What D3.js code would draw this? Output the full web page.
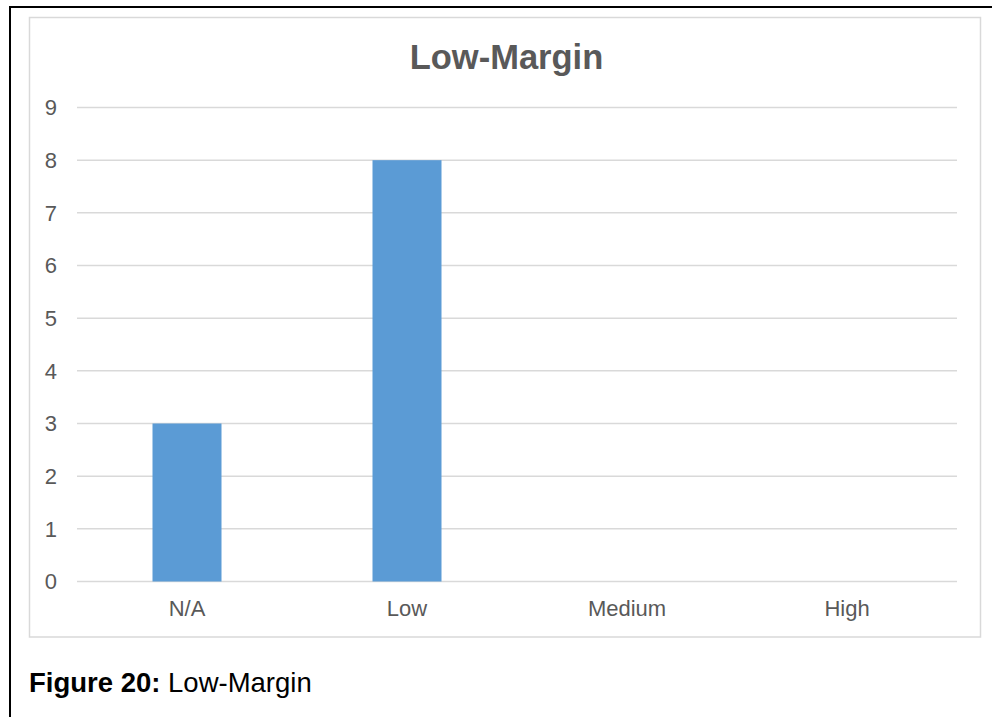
<!DOCTYPE html>
<html>
<head>
<meta charset="utf-8">
<script src="https://cdn.jsdelivr.net/npm/d3@7"></script>
<style>
  body { margin: 0; background: #fff; }
  text { font-family: Arial, "Liberation Sans", sans-serif; }
</style>
</head>
<body>
<script>
let categories = ["N/A", "Low", "Medium", "High"];
let counts = [3, 8, 0, 0];
let yTicks = [0, 1, 2, 3, 4, 5, 6, 7, 8, 9];
let chartTitle = "Low-Margin";

let width = 992, height = 717;

let svg = d3.select("body").append("svg")
    .attr("width", width)
    .attr("height", height);

// page frame (left and top edges of the figure box)
svg.append("line")
    .attr("x1", 10).attr("y1", 7).attr("x2", 10).attr("y2", height)
    .attr("stroke", "#000").attr("stroke-width", 2);
svg.append("line")
    .attr("x1", 9).attr("y1", 7).attr("x2", width).attr("y2", 7)
    .attr("stroke", "#000").attr("stroke-width", 2);

// chart area border
svg.append("rect")
    .attr("x", 29.5).attr("y", 17.5)
    .attr("width", 951).attr("height", 619.5)
    .attr("fill", "none")
    .attr("stroke", "#d9d9d9")
    .attr("stroke-width", 1.5);

let x = d3.scaleBand()
    .domain(categories)
    .range([77, 957]);

let y = d3.scaleLinear()
    .domain([0, 9])
    .range([581.5, 107.5]);

let barWidth = 69;

// gridlines
svg.append("g")
    .selectAll("line")
    .data(yTicks)
    .join("line")
    .attr("x1", 77).attr("x2", 957)
    .attr("y1", d => y(d)).attr("y2", d => y(d))
    .attr("stroke", "#d9d9d9")
    .attr("stroke-width", 1.5);

// y tick labels
svg.append("g")
    .selectAll("text")
    .data(yTicks)
    .join("text")
    .attr("x", 57)
    .attr("y", d => y(d))
    .attr("dy", "0.36em")
    .attr("text-anchor", "end")
    .attr("fill", "#595959")
    .style("font-size", "22px")
    .text(d => d);

// bars
svg.append("g")
    .selectAll("rect")
    .data(categories.map((c, i) => ({cat: c, v: counts[i]})).filter(d => d.v > 0))
    .join("rect")
    .attr("x", d => x(d.cat) + x.bandwidth() / 2 - barWidth / 2)
    .attr("width", barWidth)
    .attr("y", d => y(d.v))
    .attr("height", d => y(0) - y(d.v))
    .attr("fill", "#5b9bd5");

// x labels
svg.append("g")
    .selectAll("text")
    .data(categories)
    .join("text")
    .attr("x", d => x(d) + x.bandwidth() / 2)
    .attr("y", 616)
    .attr("text-anchor", "middle")
    .attr("fill", "#595959")
    .style("font-size", "22px")
    .text(d => d);

// title
svg.append("text")
    .attr("x", 506.5)
    .attr("y", 69)
    .attr("text-anchor", "middle")
    .attr("fill", "#595959")
    .style("font-size", "34.5px")
    .style("font-weight", "bold")
    .text(chartTitle);

// caption
let cap = svg.append("text")
    .attr("x", 29)
    .attr("y", 692)
    .attr("fill", "#000")
    .style("font-size", "27.5px");
cap.append("tspan").style("font-weight", "bold").text("Figure 20:");
cap.append("tspan").text(" Low-Margin");
</script>
</body>
</html>
